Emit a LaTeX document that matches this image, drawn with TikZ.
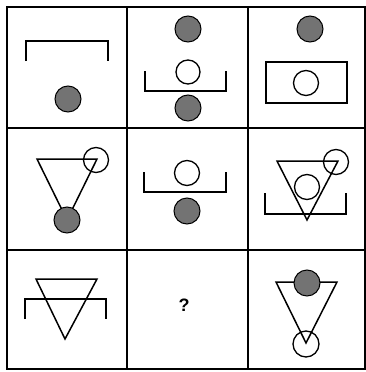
\documentclass[tikz,border=0pt]{standalone}
\usepackage{fontspec}
\setmainfont{Liberation Sans}
\begin{document}
\begin{tikzpicture}[x=1pt,y=-1pt,
  gridline/.style={line width=1.3pt},
  figline/.style={line width=1.5pt},
  fdot/.style={fill=black!55,draw=black,line width=1pt},
  odot/.style={draw=black,line width=1.3pt}]
\useasboundingbox (0,0) rectangle (366,372);
% grid
\draw[gridline] (7,7) rectangle (365,369);
\draw[gridline] (127,7) -- (127,369);
\draw[gridline] (248,7) -- (248,369);
\draw[gridline] (7,128) -- (365,128);
\draw[gridline] (7,250) -- (365,250);
% cell 1,1
\draw[figline] (26,61) -- (26,41) -- (108,41) -- (108,61);
\draw[fdot] (68,99) circle (13);
% cell 1,2
\draw[fdot] (188,29) circle (13);
\draw[odot] (188,72) circle (12);
\draw[figline] (145,71) -- (145,91) -- (226,91) -- (226,71);
\draw[fdot] (188,108) circle (13);
% cell 1,3
\draw[fdot] (310,29) circle (13);
\draw[figline] (266,62) rectangle (347,103);
\draw[odot] (306,83) circle (12.5);
% cell 2,1
\draw[figline] (37,159) -- (97,159) -- (67,220) -- cycle;
\draw[fdot] (67,220) circle (13);
\draw[odot] (96,160) circle (12.5);
% cell 2,2
\draw[odot] (187,173) circle (12.5);
\draw[figline] (144,172) -- (144,192) -- (226,192) -- (226,172);
\draw[fdot] (187,211) circle (13);
% cell 2,3
\draw[figline] (277,161) -- (338,161) -- (307,220) -- cycle;
\draw[odot] (336,162) circle (12.5);
\draw[odot] (307,187) circle (12.5);
\draw[figline] (265,193) -- (265,214) -- (346,214) -- (346,193);
% cell 3,1
\draw[figline] (36,279) -- (97,279) -- (65,339) -- cycle;
\draw[figline] (25,319) -- (25,299) -- (106,299) -- (106,319);
% cell 3,2
\node[font=\fontsize{18}{18}\selectfont\bfseries] (q) at (184,305) {?};
% cell 3,3
\draw[figline] (276,282) -- (337,282) -- (306,343) -- cycle;
\draw[fdot] (307,283) circle (13);
\draw[odot] (306,344) circle (13);
\end{tikzpicture}
\end{document}
